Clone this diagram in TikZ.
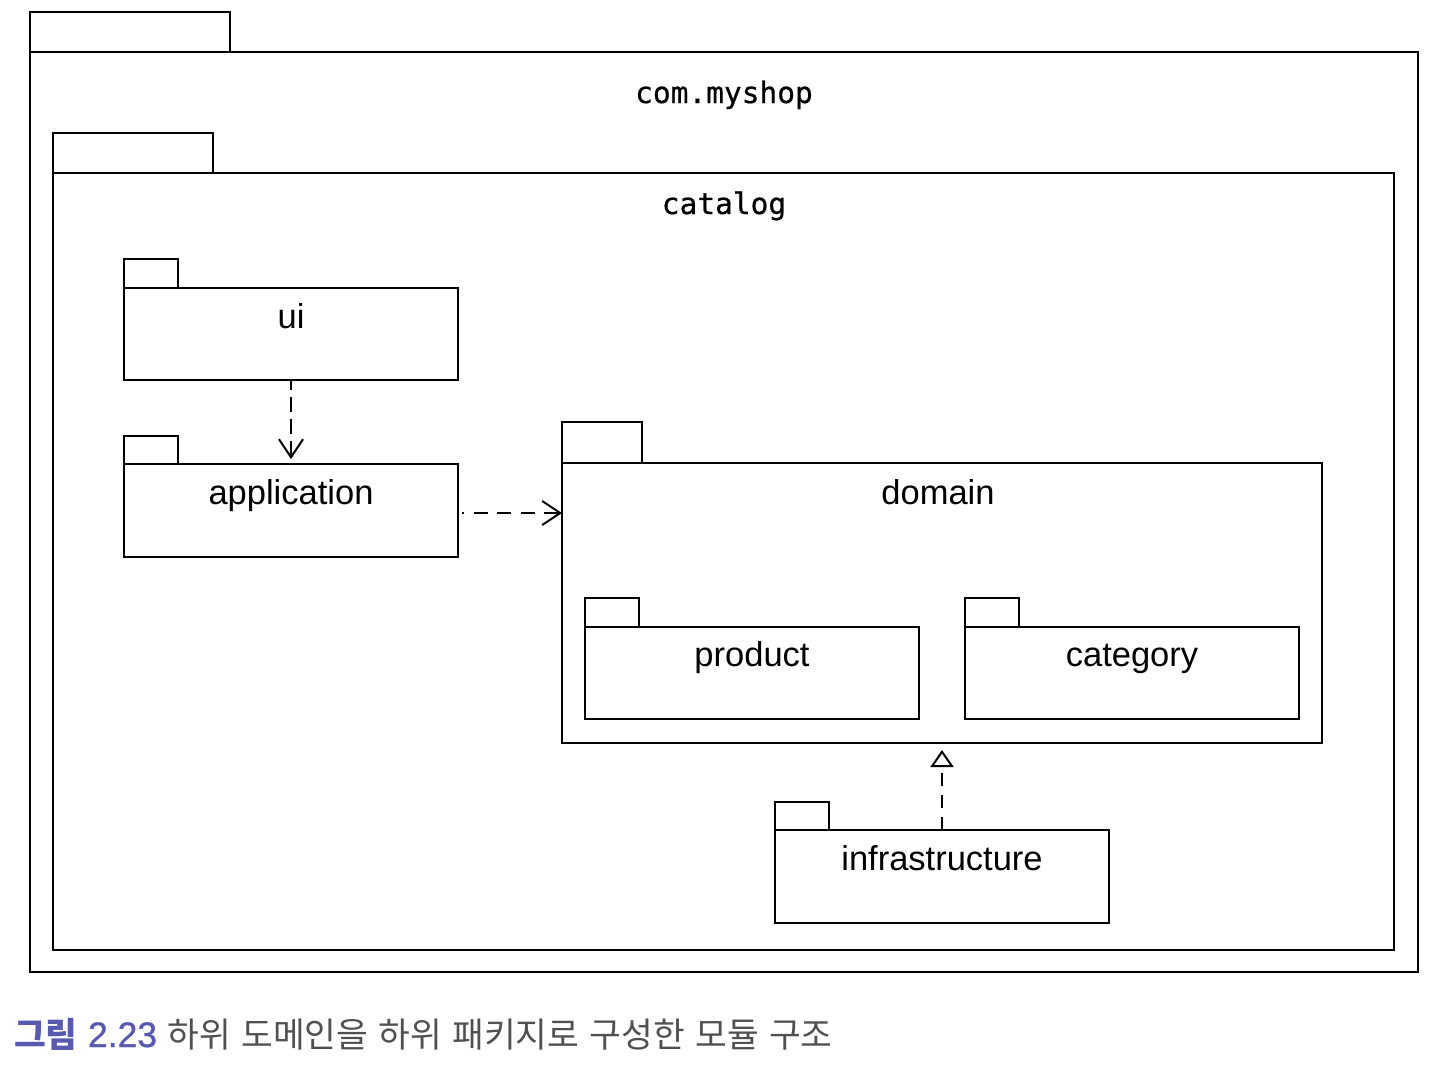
\documentclass[tikz,border=0pt]{standalone}
\usepackage{fontspec}
\setmainfont{Liberation Sans}
\newfontfamily\monof[FakeBold=0.6]{DejaVu Sans Mono}
\newfontfamily\krf{Noto Sans CJK KR}
\newfontfamily\capnum[FakeBold=0.8]{Liberation Sans}
\usetikzlibrary{arrows.meta}
\definecolor{capblue}{RGB}{88,90,176}
\definecolor{capgray}{RGB}{80,80,80}
\tikzset{
  pkgbody/.style={draw=black, line width=2pt, rectangle, inner sep=0pt, outer sep=0pt, anchor=north west},
  pkgtab/.style={draw=black, line width=2pt, rectangle, inner sep=0pt, outer sep=0pt, anchor=south west},
  lbl/.style={font=\fontsize{34.5}{40}\selectfont, anchor=base, inner sep=0pt},
  mlbl/.style={font=\monof\fontsize{29.5}{34}\selectfont, anchor=base, inner sep=0pt},
  dep/.style={line width=2pt, -{Straight Barb[length=18pt,width=24pt,line width=2pt]}},
  real/.style={line width=2pt, -{Triangle[open,length=17pt,width=23pt,line width=2pt]}},
}
\begin{document}
\begin{tikzpicture}[x=1pt,y=-1pt]
\useasboundingbox (0,0) rectangle (1440,1082);
\fill[white] (0,0) rectangle (1440,1082);
% com.myshop
\node[pkgbody, minimum width=1388pt, minimum height=920pt] (shop) at (30,52) {};
\node[pkgtab, minimum width=200pt, minimum height=40pt] (shoptab) at (shop.north west) {};
\node[mlbl] (shoplbl) at (724,103) {com.myshop};
% catalog
\node[pkgbody, minimum width=1341pt, minimum height=777pt] (cat) at (53,173) {};
\node[pkgtab, minimum width=160pt, minimum height=40pt] (cattab) at (cat.north west) {};
\node[mlbl] (catlbl) at (724,214) {catalog};
% ui
\node[pkgbody, minimum width=334pt, minimum height=92pt] (ui) at (124,288) {};
\node[pkgtab, minimum width=54pt, minimum height=29pt] (uitab) at (ui.north west) {};
\node[lbl] (uilbl) at (291,328) {ui};
% application
\node[pkgbody, minimum width=334pt, minimum height=93pt] (app) at (124,464) {};
\node[pkgtab, minimum width=54pt, minimum height=28pt] (apptab) at (app.north west) {};
\node[lbl] (applbl) at (291,504) {application};
% domain
\node[pkgbody, minimum width=760pt, minimum height=280pt] (dom) at (562,463) {};
\node[pkgtab, minimum width=80pt, minimum height=41pt] (domtab) at (dom.north west) {};
\node[lbl] (domlbl) at (938,504) {domain};
% product
\node[pkgbody, minimum width=334pt, minimum height=92pt] (prod) at (585,627) {};
\node[pkgtab, minimum width=54pt, minimum height=29pt] (prodtab) at (prod.north west) {};
\node[lbl] (prodlbl) at (752,666) {product};
% category
\node[pkgbody, minimum width=334pt, minimum height=92pt] (categ) at (965,627) {};
\node[pkgtab, minimum width=54pt, minimum height=29pt] (categtab) at (categ.north west) {};
\node[lbl] (categlbl) at (1132,666) {category};
% infrastructure
\node[pkgbody, minimum width=334pt, minimum height=93pt] (infra) at (775,830) {};
\node[pkgtab, minimum width=54pt, minimum height=28pt] (infratab) at (infra.north west) {};
\node[lbl] (infralbl) at (942,870) {infrastructure};
% connectors
\draw[dep, dash pattern=on 15pt off 7pt, dash phase=5pt, shorten >=5pt] (ui.south) -- (app.north -| ui.south);
\coordinate (appout) at ([yshift=-2.5pt]app.east);
\draw[dep, dash pattern=on 14pt off 9.5pt, dash phase=12pt, shorten <=4pt] (appout) -- (appout -| dom.west);
\draw[real, dash pattern=on 13pt off 9pt, shorten >=7pt] (infra.north) -- (dom.south);
% caption
\node[anchor=base west, inner sep=0pt, font=\krf\fontsize{34.5}{40}\selectfont] (cap) at (14,1047)
  {\textcolor{capblue}{{\bfseries 그림}\hspace{0.3em}{\capnum\fontsize{35.5}{40}\selectfont 2.23}}\hspace{0.3em}\textcolor{capgray}{하위\hspace{0.3em}도메인을\hspace{0.3em}하위\hspace{0.3em}패키지로\hspace{0.3em}구성한\hspace{0.3em}모듈\hspace{0.3em}구조}};
\end{tikzpicture}
\end{document}
